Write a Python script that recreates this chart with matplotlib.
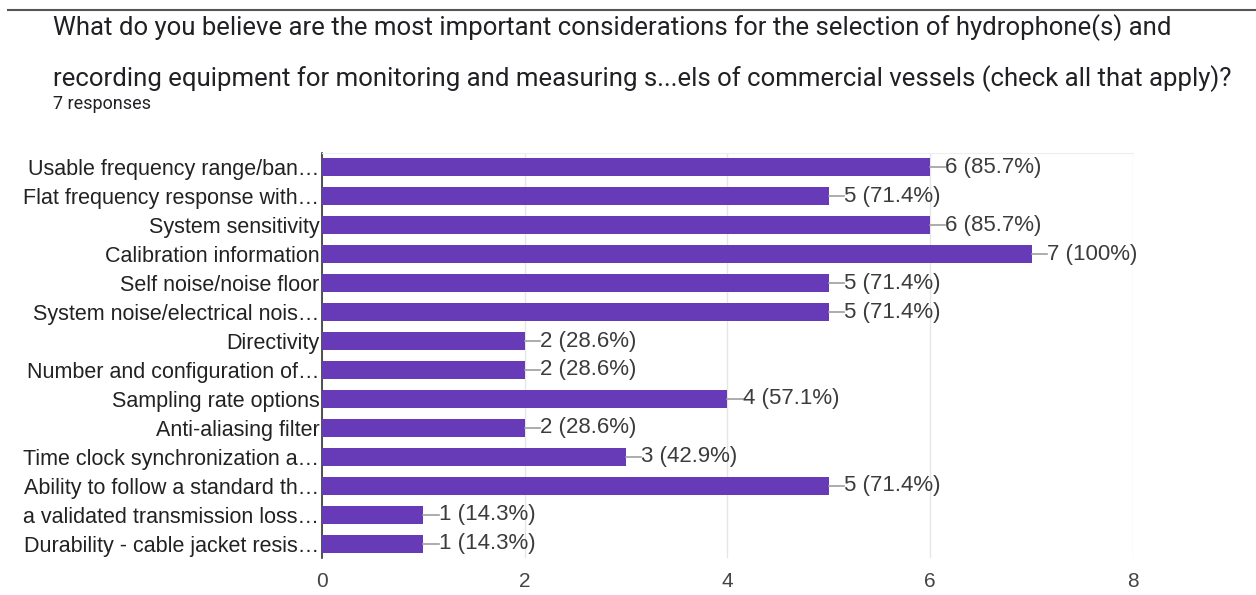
import matplotlib
matplotlib.use("Agg")
import matplotlib.pyplot as plt
from matplotlib.lines import Line2D

options = [
    "Usable frequency range/ban…",
    "Flat frequency response with…",
    "System sensitivity",
    "Calibration information",
    "Self noise/noise floor",
    "System noise/electrical nois…",
    "Directivity",
    "Number and configuration of…",
    "Sampling rate options",
    "Anti-aliasing filter",
    "Time clock synchronization a…",
    "Ability to follow a standard th…",
    "a validated transmission loss…",
    "Durability - cable jacket resis…",
]
counts = [6, 5, 6, 7, 5, 5, 2, 2, 4, 2, 3, 5, 1, 1]
total_responses = 7
x_ticks = [0, 2, 4, 6, 8]

bar_color = "#673ab7"
label_font = "Liberation Sans"

fig = plt.figure(figsize=(12.56, 5.95), dpi=100)

# header line and question text
fig.add_artist(Line2D([0.006, 1.0], [0.983, 0.983], color="#555555", lw=1.5))
fig.text(0.042, 0.953, "What do you believe are the most important considerations for the selection of hydrophone(s) and",
         fontsize=18.5, family="Roboto", color="#202124", va="center")
fig.text(0.042, 0.868, "recording equipment for monitoring and measuring s...els of commercial vessels (check all that apply)?",
         fontsize=18.5, family="Roboto", color="#202124", va="center")
fig.text(0.042, 0.825, f"{total_responses} responses", fontsize=13, family="Roboto",
         color="#202124", va="center")

ax = fig.add_axes([0.2564, 0.062, 0.6456, 0.681])
y = list(range(len(options)))
ax.barh(y, counts, height=0.62, color=bar_color, zorder=3)

for yi, c in zip(y, counts):
    ax.plot([c, c + 0.15], [yi, yi], color="#9e9e9e", lw=1.2, zorder=3, clip_on=False)
    pct = 100 * c / total_responses
    pct_txt = f"{pct:.0f}%" if pct == 100 else f"{pct:.1f}%"
    ax.text(c + 0.15, yi, f"{c} ({pct_txt})", va="center", ha="left",
            fontsize=16, family=label_font, color="#3c3c3c", zorder=4)

ax.set_ylim(len(options) - 0.5, -0.5)
ax.set_xlim(0, 8)
ax.set_xticks(x_ticks)
ax.set_yticks(y)
ax.set_yticklabels(options, fontsize=15.5, family=label_font, color="#222222")
ax.tick_params(axis="x", labelsize=15, colors="#444444", length=0, pad=10)
ax.tick_params(axis="y", length=0, pad=2)
for lbl in ax.get_xticklabels():
    lbl.set_family(label_font)

ax.grid(axis="x", color="#e6e6e6", lw=1, zorder=0)
for side in ["right", "bottom"]:
    ax.spines[side].set_visible(False)
ax.spines["top"].set_color("#eeeeee")
ax.spines["left"].set_color("#333333")
ax.spines["left"].set_linewidth(1.2)

fig.savefig("out.png", dpi=100)
